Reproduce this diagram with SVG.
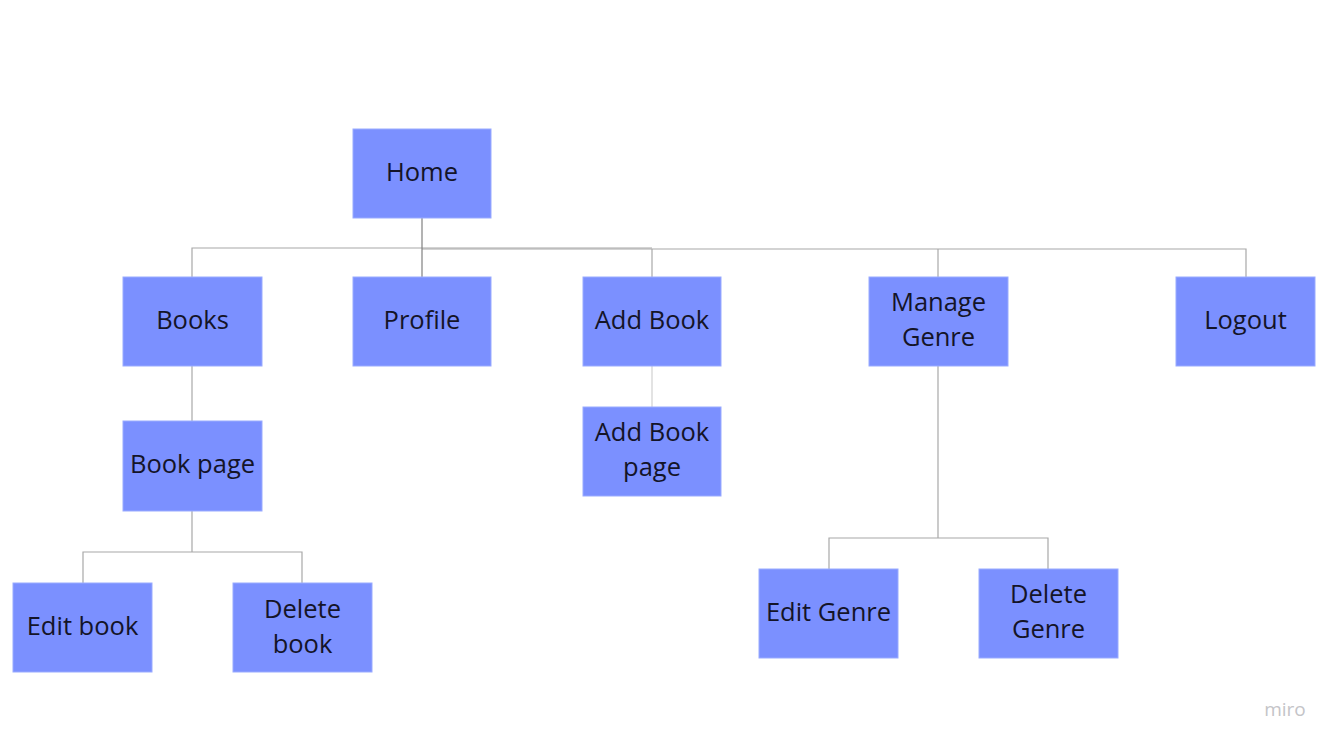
<svg xmlns="http://www.w3.org/2000/svg" width="1338" height="747" viewBox="0 0 1338 747">
<style>
.n{fill:#7b90ff;stroke:#9aabff;stroke-width:1}
.t{font-family:"Open Sans","Noto Sans",sans-serif;font-size:25.5px;fill:#141428;text-anchor:middle}
.c{fill:none;stroke:#a8a8a8;stroke-width:1.2}
.cd{fill:none;stroke:#808080;stroke-width:1.2}
.m{font-family:"Open Sans","Noto Sans",sans-serif;font-size:19px;fill:#c4c4c8;text-anchor:middle}
</style>
<rect width="1338" height="747" fill="#ffffff"/>
<g id="connectors">
<path class="c" d="M192 277V248H652"/>
<path class="c" d="M422 249H1246V277"/>
<path class="cd" d="M422 218V277"/>
<path class="c" d="M652 249V277"/>
<path class="c" d="M938 249V277"/>
<path class="c" d="M192 366V430"/>
<path class="c" d="M192 511V552M83 583V552H302V583"/>
<path class="c" d="M652 366V407" style="stroke:#d0d0d0"/>
<path class="c" d="M938 366V538M829 569V538H1048V569"/>
</g>
<g id="home"><rect class="n" x="353" y="129" width="138" height="89"/><text class="t" x="422" y="181">Home</text></g>
<g id="books"><rect class="n" x="123" y="277" width="139" height="89"/><text class="t" x="192.5" y="329">Books</text></g>
<g id="profile"><rect class="n" x="353" y="277" width="138" height="89"/><text class="t" x="422" y="329">Profile</text></g>
<g id="addbook"><rect class="n" x="583" y="277" width="138" height="89"/><text class="t" x="652" y="329">Add Book</text></g>
<g id="managegenre"><rect class="n" x="869" y="277" width="139" height="89"/><text class="t" x="938.5" y="311">Manage</text><text class="t" x="938.5" y="346">Genre</text></g>
<g id="logout"><rect class="n" x="1176" y="277" width="139" height="89"/><text class="t" x="1245.5" y="329">Logout</text></g>
<g id="bookpage"><rect class="n" x="123" y="421" width="139" height="90"/><text class="t" x="192.5" y="473">Book page</text></g>
<g id="addbookpage"><rect class="n" x="583" y="407" width="138" height="89"/><text class="t" x="652" y="441">Add Book</text><text class="t" x="652" y="476">page</text></g>
<g id="editbook"><rect class="n" x="13" y="583" width="139" height="89"/><text class="t" x="82.5" y="635">Edit book</text></g>
<g id="deletebook"><rect class="n" x="233" y="583" width="139" height="89"/><text class="t" x="302.5" y="618">Delete</text><text class="t" x="302.5" y="653">book</text></g>
<g id="editgenre"><rect class="n" x="759" y="569" width="139" height="89"/><text class="t" x="828.5" y="621">Edit Genre</text></g>
<g id="deletegenre"><rect class="n" x="979" y="569" width="139" height="89"/><text class="t" x="1048.5" y="603">Delete</text><text class="t" x="1048.5" y="638">Genre</text></g>
<text class="m" x="1285" y="716">miro</text>
</svg>
